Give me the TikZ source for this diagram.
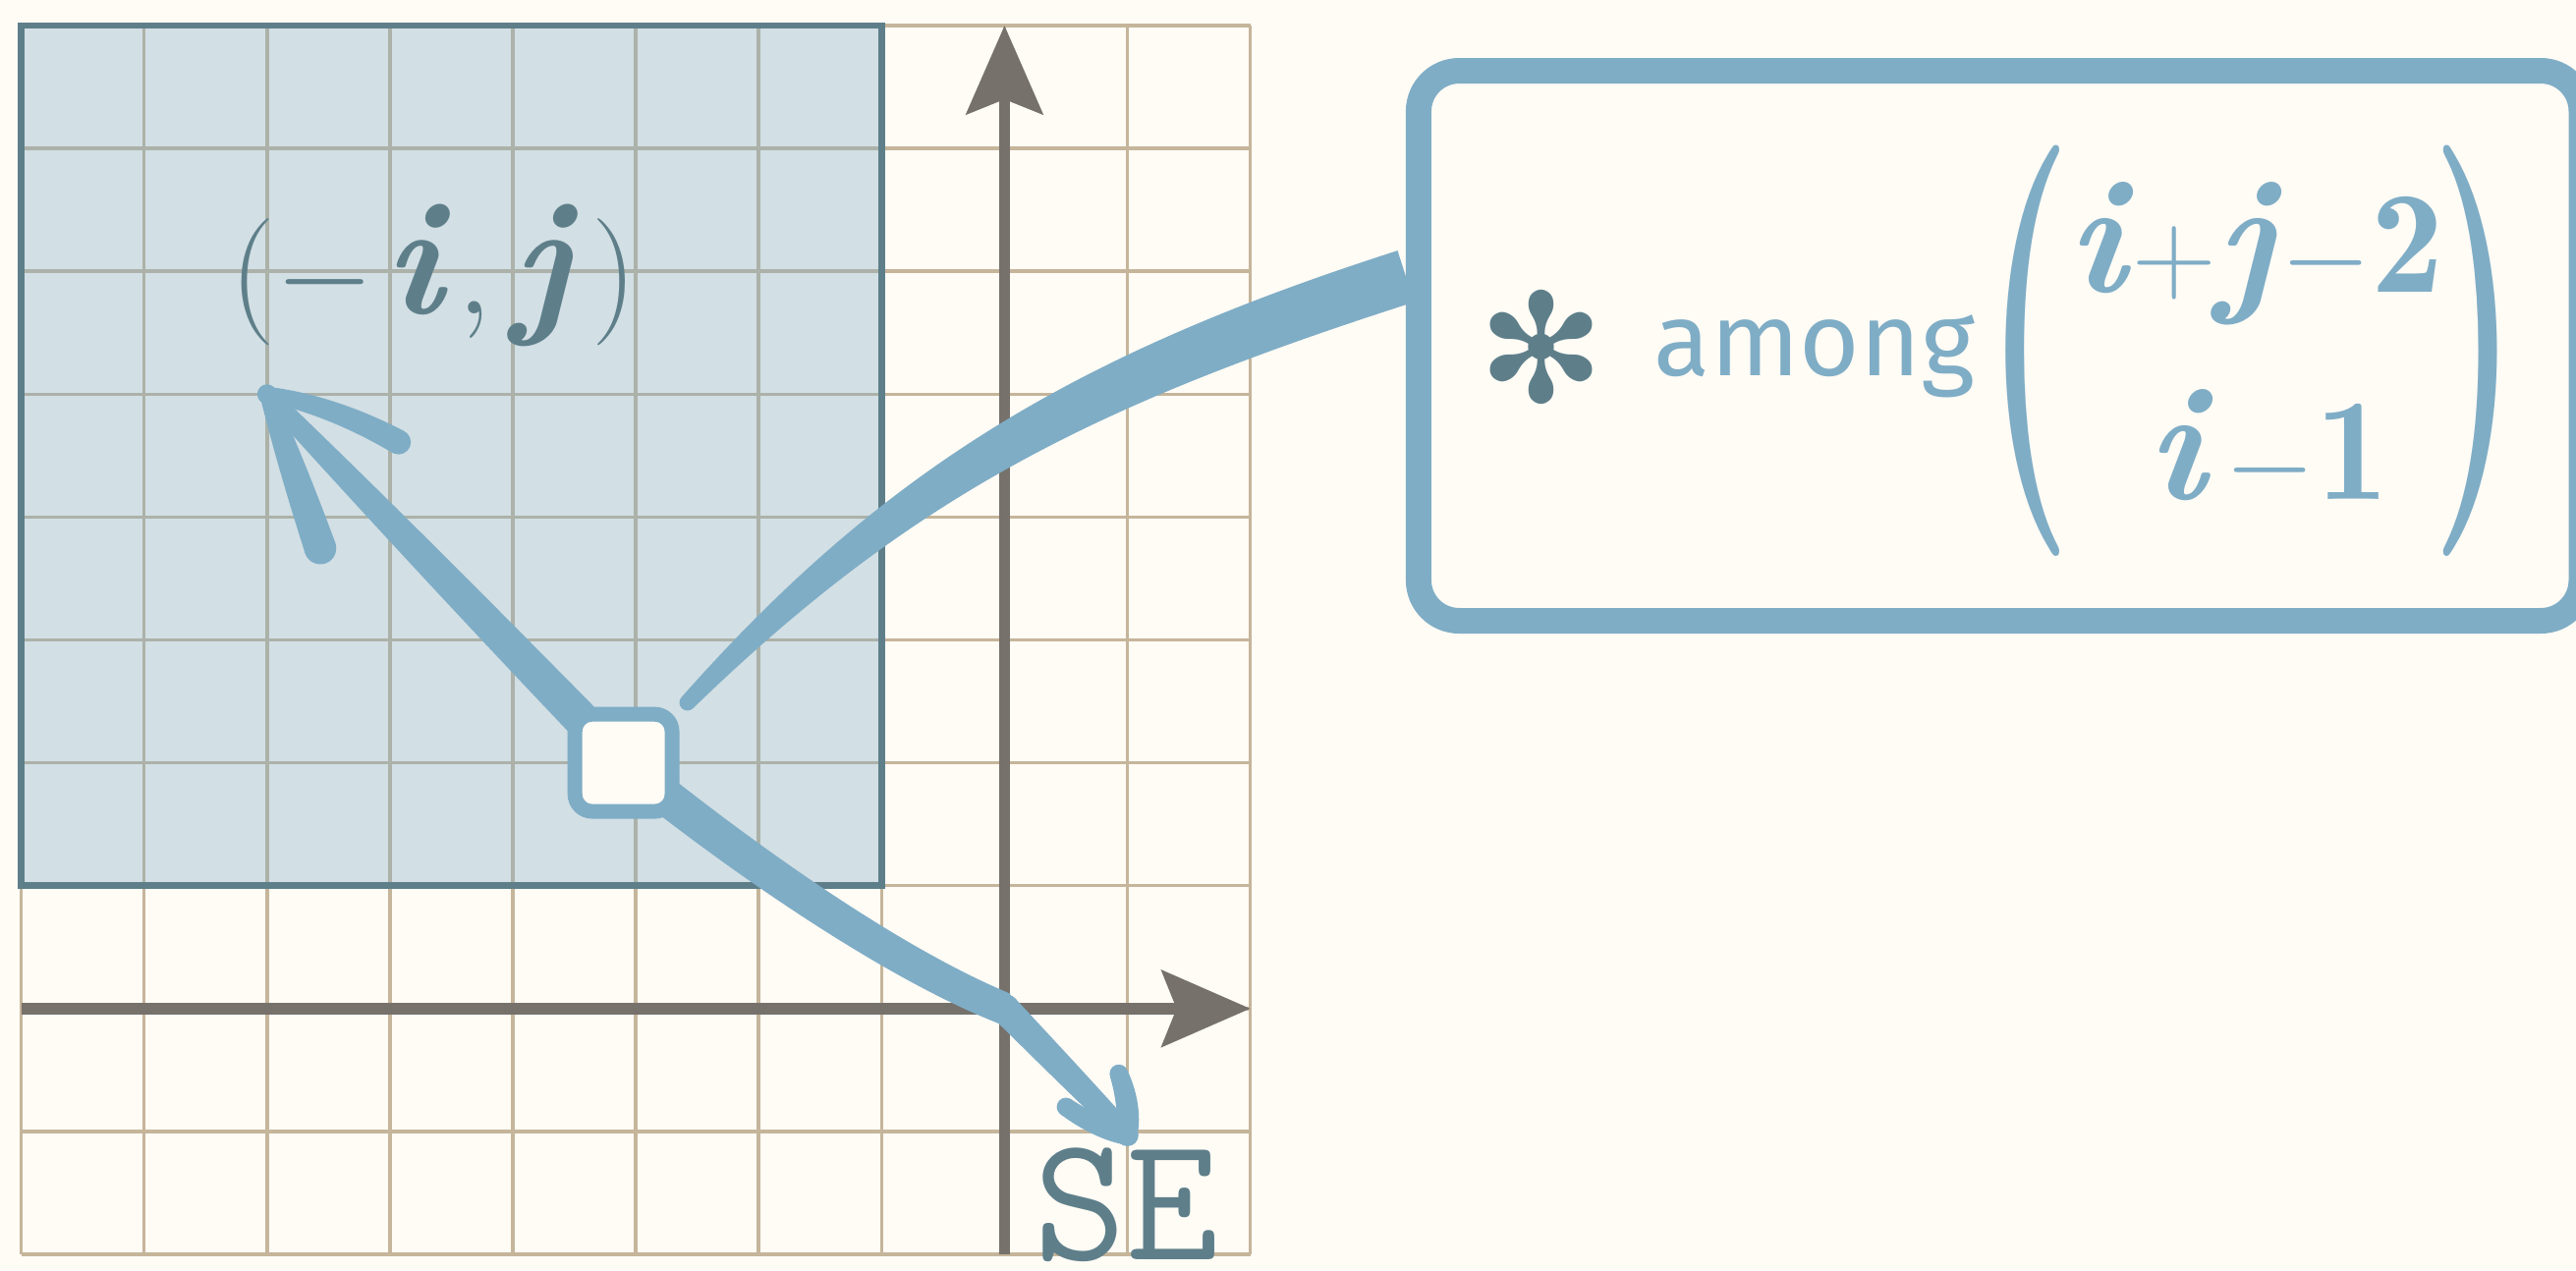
\RequirePackage{fix-cm}
\documentclass[tikz,border=0pt]{standalone}
\usepackage{fontspec}
\usepackage{amsmath}
\usepackage{graphicx}
\newfontfamily\firafont{Fira Sans}
\newfontfamily\dejavufont{DejaVu Sans}
\usetikzlibrary{arrows.meta,calc}
\definecolor{bgc}{HTML}{FFFBF5}
\definecolor{gridc}{HTML}{C5B59A}
\definecolor{axisc}{HTML}{76716B}
\definecolor{arrowc}{HTML}{7FADC6}
\definecolor{slate}{HTML}{5E7F8A}
\pgfdeclarelayer{back}
\pgfdeclarelayer{mid}
\pgfsetlayers{back,mid,main}
% tapered stroke: P0 P1 P2 P3, half widths at P0 P1 P2 P3
\newcommand\taper[8]{%
  \fill[arrowc] ($(#1)!#5!90:(#2)$) .. controls ($(#2)!#6!-90:(#1)$) and ($(#3)!#7!90:(#4)$) .. ($(#4)!#8!-90:(#3)$)
    -- ($(#4)!#8!90:(#3)$) .. controls ($(#3)!#7!-90:(#4)$) and ($(#2)!#6!90:(#1)$) .. ($(#1)!#5!-90:(#2)$) -- cycle;}
\newcommand\myI[1]{\scalebox{#1}{\bfseries\itshape i}}
\newcommand\myJ[1]{\scalebox{#1}{\bfseries\itshape j}}
\newcommand\bigparen[1]{\makebox[0.3cm]{\scalebox{1.3}[2.64]{\fontsize{36}{36}\selectfont\bfseries #1}}}
\begin{document}
\begin{tikzpicture}[
  gridline/.style={draw=gridc, line width=0.8pt},
  axisline/.style={draw=axisc, line width=2.6pt, -{Stealth[length=0.72cm,width=0.62cm,inset=0.12cm]}},
  smallbox/.style={draw=arrowc, fill=bgc, line width=0.12cm, rounded corners=0.14cm,
    minimum width=0.79cm, minimum height=0.79cm, inner sep=0pt},
  bigbox/.style={draw=arrowc, fill=bgc, line width=0.208cm, rounded corners=0.33cm,
    minimum width=9.461cm, minimum height=4.476cm, inner sep=0pt},
  bintext/.style={text=arrowc, inner sep=0pt, font=\fontsize{27}{28}\selectfont},
]
\useasboundingbox (-8.173,-2.128) rectangle (12.786,8.208);
\begin{pgfonlayer}{back}
  \fill[bgc] (-8.173,-2.128) rectangle (12.786,8.208);
  \draw[gridline] (-8,-2) grid (2,8);
  \fill[arrowc, fill opacity=0.35] (-8,1) rectangle (-1,8);
  \draw[slate, line width=1.5pt] (-8,1) rectangle (-1,8);
  \draw[axisline] (-8,0) -- (2,0);
  \draw[axisline] (0,-2) -- (0,8);
\end{pgfonlayer}

% nodes
\node[smallbox] (n) at (-3.1,2.0) {};
\node[bigbox] (box) at (8.0995,5.394) {};

\node[anchor=base, inner sep=0pt, text=slate, font=\fontsize{29.4}{30}\selectfont] (lab) at (-4.645,5.658)
  {$(-\mskip1.5mu\myI{1.28}\mskip2mu,\myJ{1.28}\mskip3mu)$};
\node[anchor=base west, inner sep=0pt, text=slate, font=\ttfamily\fontsize{41.5}{42}\selectfont] (se) at (0.23,-2.04)
  {\raisebox{0pt}[\height][0pt]{SE}};

\node[text=slate, inner sep=0pt, font=\dejavufont\fontsize{35}{35}\selectfont] (star) at (4.368,5.38) {✻};
\node[anchor=base west, inner sep=0pt, text=arrowc, font=\firafont\fontsize{24}{24}\selectfont] (among) at (5.28,5.154) {among};
\node[text=arrowc, inner sep=0pt] (lpar) at (8.33,5.354) {\bigparen{(}};
\node[text=arrowc, inner sep=0pt] (rpar) at (11.97,5.354) {\bigparen{)}};
\node[bintext, anchor=base] (toprow) at (10.18,5.826)
  {\makebox[3.0cm]{$\myI{1.4}\mskip1mu{+}\myJ{1.4}\mskip1mu{-}\scalebox{1.25}{$\mathbf{2}$}$}};
\node[bintext, anchor=base] (botrow) at (10.28,4.147)
  {$\myI{1.4}\mskip3mu{-}\scalebox{1.25}{$\mathbf{1}$}$};

\coordinate (T1) at (-6,5);
\coordinate (T2) at (1.0,-1.03);
\coordinate (kink) at (0,0);
\coordinate (ur0) at ($(n.north east)+(0.065,0.035)$);
\coordinate (ur3) at ($(box.west)+(0,0.565)$);

\begin{pgfonlayer}{mid}
  % upper-left arrow
  \taper{n.center}{-4.07,3.0}{-5.03,4.0}{T1}{0.15cm}{0.14cm}{0.12cm}{0.07cm}
  \taper{T1}{-5.856,4.582}{-5.711,4.164}{-5.567,3.746}{0.06cm}{0.1cm}{0.12cm}{0.13cm}
  \taper{T1}{-5.65,4.94}{-5.29,4.81}{-4.93,4.61}{0.06cm}{0.08cm}{0.09cm}{0.1cm}
  \fill[arrowc] (T1) circle (0.08) (-5.567,3.746) circle (0.13) (-4.93,4.61) circle (0.1);
  % lower-right arrow
  \taper{n.center}{-2.17,1.245}{-0.93,0.375}{kink}{0.15cm}{0.15cm}{0.14cm}{0.13cm}
  \taper{kink}{0.33,-0.34}{0.67,-0.69}{T2}{0.12cm}{0.11cm}{0.1cm}{0.08cm}
  \taper{T2}{1.017,-0.863}{0.993,-0.697}{0.93,-0.53}{0.08cm}{0.1cm}{0.09cm}{0.075cm}
  \taper{T2}{0.833,-0.993}{0.667,-0.917}{0.50,-0.80}{0.08cm}{0.09cm}{0.08cm}{0.075cm}
  \fill[arrowc] (kink) circle (0.12) (T2) circle (0.09) (0.93,-0.53) circle (0.075) (0.50,-0.80) circle (0.075);
  % upper-right connector
  \taper{ur0}{-0.87,4.28}{0.65,5.12}{ur3}{0.065cm}{0.16cm}{0.22cm}{0.22cm}
  \fill[arrowc] (ur0) circle (0.065);
\end{pgfonlayer}
\end{tikzpicture}
\end{document}
